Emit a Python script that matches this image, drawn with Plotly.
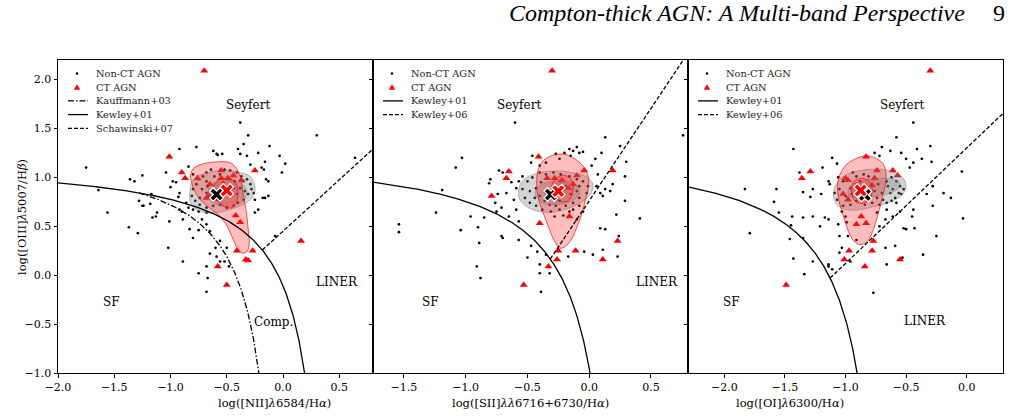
import numpy as np
import plotly.graph_objects as go

# ---------------- data ----------------
# Panel 1: [NII]/Ha vs [OIII]/Hb
nii_nonct = [
    (-1.75, 1.10), (-1.64, 0.87), (-1.56, 0.64), (-1.36, 0.98), (-1.32, 0.96), (-1.25, 1.02), (-1.37, 0.49),
    (-1.29, 0.43), (-1.28, 0.76), (-1.25, 0.71), (-1.18, 0.73), (-1.17, 0.83), (-1.16, 0.59), (-1.13, 0.60),
    (-1.04, 1.05), (-1.02, 0.28), (-1.01, 0.55), (-1.00, 0.90), (-0.98, 0.96), (-0.95, 0.95), (-0.92, 1.29),
    (-0.93, 0.80), (-0.92, 0.67), (-0.89, 0.14), (-0.75, 0.02), (-0.68, -0.17), (-0.67, -0.03), (-0.65, 0.22),
    (-0.60, 0.28), (-0.56, 0.14), (-0.48, 0.09), (-0.77, 1.31), (-0.62, 1.27), (-0.59, 1.24), (-0.54, 1.24),
    (-0.38, 1.56), (-0.31, 1.43), (-0.40, 1.29), (-0.35, 1.34), (-0.22, 1.25), (-0.12, 1.32), (-0.03, 1.22),
    (0.02, 1.14), (-0.01, 1.05), (0.30, 1.43), (0.64, 1.20), (-0.07, 0.40), (-0.18, 0.79), (-0.25, 0.64),
    (-0.68, 0.96), (-0.58, 1.23), (-0.38, 1.24), (-0.32, 1.22), (-0.16, 1.16), (-0.29, 1.13), (-0.19, 1.10),
    (-0.17, 1.08), (-0.84, 1.11), (-0.92, 0.84), (-1.24, 0.71), (-1.12, 0.64), (-0.13, 0.96),
    (-0.90, 0.65), (-0.89, 0.57), (-0.83, 0.47), (-0.80, 0.38), (-0.75, 0.46), (-0.72, 0.57), (-0.68, 0.52),
    (-0.65, 0.45), (-0.59, 0.19), (-0.68, 0.09), (-0.52, 0.14), (-0.50, 0.28), (-0.56, 0.35),
    (-0.80, 1.03), (-0.75, 0.98), (-0.71, 1.01), (-0.68, 1.05), (-0.64, 1.08), (-0.61, 1.01), (-0.56, 1.03),
    (-0.52, 1.08), (-0.47, 1.07), (-0.41, 1.05), (-0.37, 1.01), (-0.32, 0.98), (-0.29, 0.93), (-0.28, 0.88),
    (-0.31, 0.83), (-0.35, 0.77), (-0.40, 0.74), (-0.44, 0.71), (-0.50, 0.69), (-0.56, 0.72), (-0.62, 0.71),
    (-0.68, 0.69), (-0.74, 0.72), (-0.78, 0.76), (-0.81, 0.81), (-0.80, 0.88), (-0.77, 0.93), (-0.72, 0.88),
    (-0.68, 0.84), (-0.64, 0.81), (-0.59, 0.77), (-0.53, 0.81), (-0.49, 0.86), (-0.44, 0.89), (-0.41, 0.83),
    (-0.38, 0.89), (-0.35, 0.96), (-0.74, 0.79), (-0.67, 0.91), (-0.53, 0.95), (-0.47, 0.98), (-0.43, 0.96),
    (-0.34, 0.86), (-0.26, 0.84), (-0.25, 0.77), (-0.22, 0.67), (-0.16, 0.79), (-0.13, 0.81), (-0.15, 0.98),
    (-0.80, 0.67), (-0.84, 0.69), (-0.75, 0.65), (-0.68, 0.64), (-0.86, 0.74),
]
nii_ct = [
    (-0.70, 2.09), (-1.01, 1.21), (-0.90, 1.05), (-0.87, 0.99), (-0.76, 0.99), (-0.65, 0.93), (-0.66, 0.81),
    (-0.68, 0.79), (-0.55, 1.07), (-0.55, 0.99), (-0.49, 0.99), (-0.44, 1.02), (-0.37, 0.97), (-0.25, 1.07),
    (-0.42, 0.61), (-0.38, 0.54), (-0.41, 0.25), (-0.27, 0.25), (-0.33, 0.16), (-0.31, 0.15), (-0.58, 0.09),
    (-0.50, -0.10), (0.16, 0.35),
]
nii_mean_nonct = (-0.59, 0.825)
nii_mean_ct = (-0.50, 0.866)
nii_gray_outer = [
    (-0.828, 0.843), (-0.813, 0.946), (-0.754, 1.014), (-0.650, 1.055), (-0.501, 1.072), (-0.383, 1.048),
    (-0.294, 1.014), (-0.258, 0.946), (-0.249, 0.860), (-0.279, 0.781), (-0.329, 0.740), (-0.383, 0.706),
    (-0.472, 0.672), (-0.561, 0.644), (-0.665, 0.637), (-0.754, 0.661), (-0.804, 0.706), (-0.828, 0.774),
]
nii_gray_inner = [
    (-0.67, 0.84), (-0.64, 0.92), (-0.56, 0.96), (-0.45, 0.96), (-0.35, 0.92), (-0.32, 0.84), (-0.36, 0.75),
    (-0.45, 0.71), (-0.56, 0.71), (-0.64, 0.76),
]
nii_red_outer = [
    (-0.318, 0.243), (-0.300, 0.329), (-0.309, 0.466), (-0.329, 0.672), (-0.353, 0.809), (-0.374, 0.980),
    (-0.412, 1.089), (-0.472, 1.151), (-0.591, 1.158), (-0.724, 1.134), (-0.798, 1.089), (-0.822, 1.014),
    (-0.807, 0.928), (-0.769, 0.826), (-0.709, 0.740), (-0.635, 0.672), (-0.561, 0.603), (-0.496, 0.500),
    (-0.442, 0.363), (-0.398, 0.261), (-0.359, 0.226),
]
nii_red_inner = [
    (-0.62, 0.90), (-0.58, 0.97), (-0.50, 0.99), (-0.43, 0.96), (-0.40, 0.87), (-0.41, 0.76), (-0.45, 0.69),
    (-0.52, 0.70), (-0.58, 0.76), (-0.62, 0.83),
]

# Panel 2: [SII]/Ha
sii_nonct = [
    (-0.60, 1.56), (0.13, 1.41), (0.25, 1.32), (-1.03, 1.20), (-1.08, 1.10), (-1.19, 0.87), (-0.73, 1.07),
    (-0.70, 1.05), (-0.80, 0.98), (-0.81, 0.94), (-0.67, 0.84), (-0.63, 0.95), (-0.57, 0.96), (-0.74, 0.83),
    (-0.71, 0.69), (-0.76, 0.74), (-0.59, 0.67), (-0.65, 0.60), (-0.57, 0.55), (-0.71, 0.40), (-0.70, 0.38),
    (-0.89, 0.33), (-0.96, 0.60), (-0.85, 0.59), (-0.90, 0.49), (-1.04, 0.46), (-0.91, 0.09), (-0.88, -0.03),
    (-0.57, 0.36), (-0.50, 0.18), (-0.47, 0.30), (-0.42, 0.24), (-0.39, -0.17), (-0.40, 0.02), (-0.40, 0.11),
    (-0.32, 0.02), (-0.35, 0.21), (-0.17, 0.19), (-0.04, 0.24), (0.03, 0.21), (0.11, 0.26), (0.23, 0.19),
    (0.09, 0.48), (0.13, 0.47), (0.24, 0.40), (0.41, 0.58), (0.22, 0.62), (0.17, 0.86), (0.11, 0.81),
    (0.09, 0.84), (0.13, 0.88), (0.06, 0.91), (0.07, 1.03), (0.05, 1.19), (0.10, 1.25), (0.02, 1.12),
    (-0.08, 1.25), (-0.05, 1.26), (-0.15, 1.22), (-0.10, 1.31), (-0.13, 1.27), (0.30, 1.16), (0.29, 1.01),
    (0.19, 0.93), (-0.47, 1.15), (-0.46, 1.22), (-0.40, 1.12), (-0.35, 1.15), (-0.27, 1.24), (-0.24, 1.19),
    (-0.20, 1.25), (-0.16, 1.29), (-1.54, 0.52), (-1.54, 0.44), (-1.24, 0.64), (-0.75, 0.65), (0.76, 1.43),
    (0.29, 0.76),
    (-0.54, 1.01), (-0.50, 0.96), (-0.46, 1.00), (-0.40, 1.05), (-0.35, 1.03), (-0.29, 1.05), (-0.23, 1.03),
    (-0.16, 1.01), (-0.10, 0.98), (-0.05, 0.96), (-0.01, 0.91), (-0.02, 0.84), (-0.08, 0.79), (-0.13, 0.74),
    (-0.19, 0.71), (-0.24, 0.67), (-0.31, 0.65), (-0.38, 0.67), (-0.43, 0.71), (-0.48, 0.74), (-0.52, 0.79),
    (-0.54, 0.88), (-0.48, 0.86), (-0.43, 0.89), (-0.40, 0.81), (-0.36, 0.76), (-0.35, 0.84), (-0.28, 0.81),
    (-0.24, 0.76), (-0.20, 0.83), (-0.15, 0.83), (-0.10, 0.86), (-0.08, 0.91), (-0.13, 0.93), (-0.19, 0.91),
    (-0.23, 0.96), (-0.39, 0.95), (-0.44, 0.79), (-0.32, 0.72), (-0.27, 0.71), (-0.13, 0.67), (-0.08, 0.71),
    (-0.05, 0.65), (-0.28, 0.60), (-0.21, 0.61), (-0.16, 0.65), (-0.10, 0.57), (-0.59, 0.89), (-0.61, 0.77),
]
sii_ct = [
    (-0.30, 2.09), (-0.41, 1.21), (-0.65, 1.06), (-0.67, 0.99), (-0.79, 0.81), (-0.34, 0.99), (-0.28, 0.99),
    (-0.22, 0.97), (-0.17, 0.89), (-0.13, 0.93), (-0.10, 1.02), (-0.04, 1.07), (0.19, 1.07), (-0.40, 0.53),
    (-0.16, 0.60), (-0.25, 0.25), (-0.11, 0.25), (-0.26, 0.16), (0.11, 0.16), (0.23, 0.35), (-0.33, 0.09),
    (-0.53, -0.10),
]
sii_mean_nonct = (-0.31, 0.825)
sii_mean_ct = (-0.25, 0.86)
sii_gray_outer = [
    (-0.573, 0.843), (-0.551, 0.946), (-0.484, 1.014), (-0.375, 1.055), (-0.240, 1.065), (-0.104, 1.041),
    (-0.009, 0.997), (0.031, 0.928), (0.018, 0.843), (-0.050, 0.757), (-0.158, 0.689), (-0.294, 0.644),
    (-0.416, 0.654), (-0.511, 0.706), (-0.560, 0.768),
]
sii_gray_inner = [
    (-0.44, 0.84), (-0.40, 0.92), (-0.30, 0.96), (-0.17, 0.96), (-0.09, 0.91), (-0.08, 0.83), (-0.14, 0.76),
    (-0.27, 0.72), (-0.38, 0.74),
]
sii_red_outer = [
    (-0.240, 0.278), (-0.280, 0.346), (-0.321, 0.466), (-0.362, 0.603), (-0.402, 0.740), (-0.424, 0.877),
    (-0.424, 0.980), (-0.416, 1.065), (-0.375, 1.168), (-0.294, 1.226), (-0.199, 1.237), (-0.118, 1.192),
    (-0.050, 1.117), (-0.009, 1.014), (-0.004, 0.911), (-0.023, 0.809), (-0.050, 0.672), (-0.091, 0.518),
    (-0.145, 0.363), (-0.199, 0.288),
]
sii_red_inner = [
    (-0.30, 0.93), (-0.26, 1.00), (-0.20, 1.02), (-0.15, 0.99), (-0.13, 0.92), (-0.14, 0.82), (-0.17, 0.76),
    (-0.22, 0.75), (-0.27, 0.78), (-0.30, 0.85),
]

# Panel 3: [OI]/Ha
oi_nonct = [
    (-0.44, 1.56), (-1.43, 1.29), (-0.58, 1.41), (-0.30, 1.32), (-0.04, 1.06), (-0.41, 1.29), (-0.54, 1.25),
    (-0.50, 1.19), (-0.63, 1.27), (-0.70, 1.31), (-0.72, 1.22), (-0.76, 1.25), (-0.37, 1.19), (-0.29, 1.16),
    (-0.44, 1.15), (-0.47, 1.10), (-1.07, 1.14), (-1.11, 1.20), (-1.38, 1.05), (-1.19, 1.10), (-1.35, 0.85),
    (-1.57, 0.88), (-1.59, 0.75), (-1.27, 0.88), (-1.29, 0.80), (-1.20, 0.83), (-1.13, 0.93), (-1.14, 0.96),
    (-1.55, 0.64), (-1.44, 0.60), (-1.35, 0.59), (-1.27, 0.60), (-1.21, 0.50), (-1.45, 0.51), (-1.46, 0.37),
    (-1.35, 0.38), (-1.27, 0.14), (-1.43, 0.17), (-1.34, 0.01), (-1.17, 0.59), (-1.14, 0.57), (-1.05, 0.40),
    (-0.98, 0.40), (-1.03, 0.28), (-1.05, 0.23), (-1.14, 0.11), (-1.11, 0.06), (-1.06, 0.52), (-1.00, 0.60),
    (-0.99, 0.54), (-1.03, 0.65), (-0.77, -0.18), (-0.67, 0.28), (-0.59, 0.30), (-0.53, 0.18), (-0.36, 0.21),
    (-0.25, 0.40), (-0.19, 0.84), (-0.13, 0.79), (-0.28, 0.71), (-0.28, 0.91), (-0.03, 0.58), (-0.33, 0.83),
    (-0.44, 0.67), (-0.52, 0.48), (-0.43, 0.48), (-0.50, 0.47), (-0.67, 0.57), (-0.72, 0.50), (-0.66, 0.67),
    (-0.74, 0.64), (-0.61, 0.60), (-0.55, 0.65), (-0.45, 0.60), (-0.91, 0.36), (-0.96, 0.14), (-0.66, 0.11),
    (-1.83, 0.88), (-1.79, 0.43), (-1.14, 0.09),
    (-1.06, 1.00), (-1.02, 0.96), (-1.05, 0.88), (-1.00, 0.81), (-0.96, 0.89), (-0.94, 1.05), (-0.91, 1.01),
    (-0.88, 0.96), (-0.85, 1.03), (-0.81, 1.01), (-0.77, 0.98), (-0.73, 0.93), (-0.66, 0.96), (-0.62, 1.00),
    (-0.58, 0.96), (-0.55, 0.91), (-0.52, 0.88), (-0.54, 0.83), (-0.59, 0.79), (-0.63, 0.84), (-0.61, 0.88),
    (-0.65, 0.91), (-0.70, 0.84), (-0.74, 0.79), (-0.78, 0.74), (-0.84, 0.72), (-0.91, 0.76), (-0.96, 0.72),
    (-1.02, 0.71), (-1.07, 0.77), (-1.09, 0.84), (-0.95, 0.83), (-0.88, 0.81), (-0.83, 0.84), (-0.84, 0.91),
    (-0.91, 0.93), (-0.69, 0.77), (-0.66, 0.74), (-0.58, 0.74), (-0.56, 0.84), (-0.62, 0.76), (-0.72, 0.72),
    (-0.76, 0.86), (-0.89, 0.88), (-0.98, 0.79),
]
oi_ct = [
    (-0.30, 2.09), (-0.83, 1.21), (-0.74, 1.07), (-0.61, 1.07), (-0.57, 1.02), (-1.29, 1.06), (-1.36, 0.99),
    (-1.00, 0.99), (-0.98, 0.97), (-0.76, 0.99), (-0.78, 0.92), (-1.02, 0.83), (-0.98, 0.77), (-0.87, 0.60),
    (-0.91, 0.52), (-0.83, 0.53), (-0.77, 0.35), (-0.97, 0.25), (-0.78, 0.25), (-1.01, 0.16), (-0.55, 0.16),
    (-0.84, 0.09), (-1.49, -0.10),
]
oi_mean_nonct = (-0.84, 0.82)
oi_mean_ct = (-0.875, 0.866)
oi_gray_outer = [
    (-1.100, 0.809), (-1.086, 0.911), (-1.031, 0.997), (-0.935, 1.055), (-0.798, 1.083), (-0.660, 1.076),
    (-0.564, 1.031), (-0.509, 0.963), (-0.503, 0.877), (-0.550, 0.802), (-0.646, 0.740), (-0.770, 0.699),
    (-0.907, 0.665), (-1.017, 0.678), (-1.078, 0.730),
]
oi_gray_inner = [
    (-0.98, 0.86), (-0.94, 0.93), (-0.85, 0.97), (-0.72, 0.99), (-0.60, 0.98), (-0.55, 0.94), (-0.57, 0.88),
    (-0.65, 0.83), (-0.78, 0.80), (-0.90, 0.79), (-0.97, 0.81),
]
oi_red_outer = [
    (-0.880, 0.312), (-0.929, 0.346), (-0.976, 0.449), (-1.017, 0.603), (-1.050, 0.740), (-1.067, 0.911),
    (-1.045, 1.031), (-0.990, 1.134), (-0.907, 1.196), (-0.825, 1.220), (-0.743, 1.192), (-0.688, 1.134),
    (-0.666, 1.048), (-0.668, 0.946), (-0.693, 0.809), (-0.729, 0.637), (-0.770, 0.466), (-0.820, 0.346),
]
oi_red_inner = [
    (-0.95, 0.88), (-0.93, 0.96), (-0.87, 0.99), (-0.81, 0.97), (-0.78, 0.90), (-0.79, 0.80), (-0.84, 0.74),
    (-0.90, 0.74), (-0.94, 0.79),
]

# demarcation-line coefficients: y = a/(x-b)+c ; straight lines y = m x + k
KAUFFMANN03 = (0.61, 0.05, 1.30)
KEWLEY01_NII = (0.61, 0.47, 1.19)
SCHAWINSKI07 = (1.05, 0.45)
KEWLEY01_SII = (0.72, 0.32, 1.30)
KEWLEY06_SII = (1.89, 0.76)
KEWLEY01_OI = (0.73, -0.59, 1.33)
KEWLEY06_OI = (1.18, 1.30)

x_ranges = [(-2.0, 0.8), (-1.75, 0.8), (-2.3, 0.3)]
x_ticks = [[-2.0, -1.5, -1.0, -0.5, 0.0, 0.5], [-1.5, -1.0, -0.5, 0.0, 0.5], [-2.0, -1.5, -1.0, -0.5, 0.0]]
y_ticks = [-1.0, -0.5, 0.0, 0.5, 1.0, 1.5, 2.0]
y_range = (-1.0, 2.2)
x_titles = ["log([NII]<i>λ</i>6584/H<i>α</i>)", "log([SII]<i>λλ</i>6716+6730/H<i>α</i>)",
            "log([OI]<i>λ</i>6300/H<i>α</i>)"]
y_title = "log([OIII]<i>λ</i>5007/H<i>β</i>)"

# ---------------- figure ----------------
W, H = 1016, 416
ML, MR, MT, MB = 58, 13, 60, 43
PW, PH = W - ML - MR, H - MT - MB
SERIF = "DejaVu Serif"
BLACK = "black"
DASH = "4px,2px"
DASHDOT = "6px,2px,1.5px,2px"


def px2p(px, py):
    return (px - ML) / PW, (H - MB - py) / PH


def fmt(v):
    return f"{v:.1f}".replace("-", "\u2212")


def hyper(coef, xmin):
    a, b, c = coef
    xend = b + a / (-1.08 - c)
    xs = np.linspace(xmin, xend, 400)
    return xs, a / (xs - b) + c


def hyper_cross(c1, c2):
    # x where two hyperbolae a/(x-b)+c meet (left branch)
    a1, b1, k1 = c1
    a2, b2, k2 = c2
    # a1(x-b2) - a2(x-b1) + (k1-k2)(x-b1)(x-b2) = 0
    d = k1 - k2
    coeffs = [d, a1 - a2 - d * (b1 + b2), -a1 * b2 + a2 * b1 + d * b1 * b2]
    r = np.roots(coeffs)
    return float(min(v.real for v in r))


def straight(lin, coef, xmax):
    m, k = lin
    a, b, c = coef
    roots = np.roots([m, k - c - m * b, -(k - c) * b - a])
    x0 = float(min(r.real for r in roots))
    xs = np.array([x0, xmax])
    return xs, m * xs + k


def unzip(pts):
    return [p[0] for p in pts], [p[1] for p in pts]


fig = go.Figure()

panels = [
    dict(nonct=nii_nonct, ct=nii_ct, go_=nii_gray_outer, gi=nii_gray_inner, ro=nii_red_outer, ri=nii_red_inner,
         mn=nii_mean_nonct, mc=nii_mean_ct),
    dict(nonct=sii_nonct, ct=sii_ct, go_=sii_gray_outer, gi=sii_gray_inner, ro=sii_red_outer, ri=sii_red_inner,
         mn=sii_mean_nonct, mc=sii_mean_ct),
    dict(nonct=oi_nonct, ct=oi_ct, go_=oi_gray_outer, gi=oi_gray_inner, ro=oi_red_outer, ri=oi_red_inner,
         mn=oi_mean_nonct, mc=oi_mean_ct),
]

for i, p in enumerate(panels):
    xa = "x" if i == 0 else f"x{i + 1}"
    ya = "y" if i == 0 else f"y{i + 1}"
    common = dict(xaxis=xa, yaxis=ya, showlegend=False, hoverinfo="skip")
    x, y = unzip(p["nonct"])
    fig.add_trace(go.Scatter(x=x, y=y, mode="markers", marker=dict(size=2.7, color=BLACK), **common))
    x, y = unzip(p["ct"])
    fig.add_trace(go.Scatter(x=x, y=y, mode="markers",
                             marker=dict(symbol="triangle-up", size=7, color="red", line=dict(width=0)), **common))
    for key, fc, lc in [("go_", "rgba(120,120,120,0.32)", "rgba(110,110,110,0.55)"),
                        ("gi", "rgba(120,120,120,0.30)", "rgba(110,110,110,0.45)"),
                        ("ro", "rgba(255,40,40,0.30)", "rgba(255,0,0,0.85)"),
                        ("ri", "rgba(255,40,40,0.28)", "rgba(255,0,0,0.85)")]:
        x, y = unzip(p[key] + p[key][:1])
        fig.add_trace(go.Scatter(x=x, y=y, mode="lines", fill="toself", fillcolor=fc,
                                 line=dict(color=lc, width=0.8, shape="spline", smoothing=0.9), **common))

# demarcation lines
LW = 1.3
x1, y1 = hyper(KAUFFMANN03, hyper_cross(KAUFFMANN03, KEWLEY01_NII))
fig.add_trace(go.Scatter(x=x1, y=y1, mode="lines", line=dict(color=BLACK, width=LW, dash=DASHDOT),
                         xaxis="x", yaxis="y", showlegend=False, hoverinfo="skip"))
x1, y1 = hyper(KEWLEY01_NII, -2.0)
fig.add_trace(go.Scatter(x=x1, y=y1, mode="lines", line=dict(color=BLACK, width=LW),
                         xaxis="x", yaxis="y", showlegend=False, hoverinfo="skip"))
x1, y1 = straight(SCHAWINSKI07, KEWLEY01_NII, 0.8)
fig.add_trace(go.Scatter(x=x1, y=y1, mode="lines", line=dict(color=BLACK, width=LW, dash=DASH),
                         xaxis="x", yaxis="y", showlegend=False, hoverinfo="skip"))
x1, y1 = hyper(KEWLEY01_SII, -1.75)
fig.add_trace(go.Scatter(x=x1, y=y1, mode="lines", line=dict(color=BLACK, width=LW),
                         xaxis="x2", yaxis="y2", showlegend=False, hoverinfo="skip"))
x1, y1 = straight(KEWLEY06_SII, KEWLEY01_SII, 0.8)
fig.add_trace(go.Scatter(x=x1, y=y1, mode="lines", line=dict(color=BLACK, width=LW, dash=DASH),
                         xaxis="x2", yaxis="y2", showlegend=False, hoverinfo="skip"))
x1, y1 = hyper(KEWLEY01_OI, -2.3)
fig.add_trace(go.Scatter(x=x1, y=y1, mode="lines", line=dict(color=BLACK, width=LW),
                         xaxis="x3", yaxis="y3", showlegend=False, hoverinfo="skip"))
x1, y1 = straight(KEWLEY06_OI, KEWLEY01_OI, 0.3)
fig.add_trace(go.Scatter(x=x1, y=y1, mode="lines", line=dict(color=BLACK, width=LW, dash=DASH),
                         xaxis="x3", yaxis="y3", showlegend=False, hoverinfo="skip"))

# centroids
for i, p in enumerate(panels):
    xa = "x" if i == 0 else f"x{i + 1}"
    ya = "y" if i == 0 else f"y{i + 1}"
    for (mx, my), col in [(p["mn"], BLACK), (p["mc"], "red")]:
        fig.add_trace(go.Scatter(x=[mx], y=[my], mode="markers",
                                 marker=dict(symbol="x", size=12, color=col, line=dict(color="white", width=1.2)),
                                 xaxis=xa, yaxis=ya, showlegend=False, hoverinfo="skip"))

# axes
layout = dict(width=W, height=H, margin=dict(l=ML, r=MR, t=MT, b=MB), paper_bgcolor="white",
              plot_bgcolor="white", showlegend=False)
for i in range(3):
    sfx = "" if i == 0 else str(i + 1)
    layout[f"xaxis{sfx}"] = dict(
        domain=[i / 3, (i + 1) / 3], range=list(x_ranges[i]), anchor=f"y{sfx}",
        tickmode="array", tickvals=x_ticks[i], ticktext=[fmt(v) for v in x_ticks[i]],
        showline=True, mirror=True, linecolor=BLACK, linewidth=1, ticks="outside", ticklen=3.5, tickwidth=0.8,
        tickcolor=BLACK, showgrid=False, zeroline=False, tickfont=dict(family=SERIF, size=11, color=BLACK))
    layout[f"yaxis{sfx}"] = dict(
        domain=[0, 1], range=list(y_range), anchor=f"x{sfx}",
        tickmode="array", tickvals=y_ticks, ticktext=[fmt(v) for v in y_ticks], showticklabels=(i == 0),
        showline=True, mirror=True, linecolor=BLACK, linewidth=1, ticks="outside", ticklen=3.5, tickwidth=0.8,
        tickcolor=BLACK, showgrid=False, zeroline=False, tickfont=dict(family=SERIF, size=11, color=BLACK))
fig.update_layout(**layout)

ann = []
shapes = []
# region labels
region_labels = [
    ("x", "y", -0.31, 1.74, "Seyfert"), ("x", "y", 0.476, -0.065, "LINER"), ("x", "y", -1.525, -0.27, "SF"),
    ("x", "y", -0.087, -0.476, "Comp."),
    ("x2", "y2", -0.565, 1.74, "Seyfert"), ("x2", "y2", 0.551, -0.065, "LINER"), ("x2", "y2", -1.283, -0.27, "SF"),
    ("x3", "y3", -0.531, 1.74, "Seyfert"), ("x3", "y3", -0.344, -0.466, "LINER"), ("x3", "y3", -1.94, -0.27, "SF"),
]
for xr, yr, x, y, t in region_labels:
    ann.append(dict(x=x, y=y, xref=xr, yref=yr, text=t, showarrow=False,
                    font=dict(family=SERIF, size=12, color=BLACK)))

# axis titles
for i, t in enumerate(x_titles):
    cx = ML + PW * (i + 0.5) / 3
    xp, yp = px2p(cx, 403)
    ann.append(dict(x=xp, y=yp, xref="paper", yref="paper", text=t, showarrow=False, yanchor="middle",
                    font=dict(family=SERIF, size=11.5, color=BLACK)))
xp, yp = px2p(13, 217)
ann.append(dict(x=xp, y=yp, xref="paper", yref="paper", text=y_title, showarrow=False, textangle=-90,
                font=dict(family=SERIF, size=11.5, color=BLACK)))

# page header
xp, yp = px2p(967, 13)
ann.append(dict(x=xp, y=yp, xref="paper", yref="paper", text="<i>Compton-thick AGN: A Multi-band Perspective</i>",
                showarrow=False, xanchor="right", yanchor="middle",
                font=dict(family="Liberation Serif", size=24, color=BLACK)))
xp, yp = px2p(999, 13)
ann.append(dict(x=xp, y=yp, xref="paper", yref="paper", text="9", showarrow=False, xanchor="center",
                yanchor="middle", font=dict(family="Liberation Serif", size=24, color=BLACK)))

# legends (drawn per panel)
legend_items = [
    ["Non-CT AGN", "CT AGN", "Kauffmann+03", "Kewley+01", "Schawinski+07"],
    ["Non-CT AGN", "CT AGN", "Kewley+01", "Kewley+06"],
    ["Non-CT AGN", "CT AGN", "Kewley+01", "Kewley+06"],
]
legend_styles = {"Kauffmann+03": DASHDOT, "Kewley+01": "solid", "Schawinski+07": DASH, "Kewley+06": DASH}
for i, items in enumerate(legend_items):
    x0 = ML + PW * i / 3
    for j, name in enumerate(items):
        py = 73.5 + 13.7 * j
        cx = x0 + 19
        if name == "Non-CT AGN":
            a0 = px2p(cx - 1.3, py - 1.3)
            a1 = px2p(cx + 1.3, py + 1.3)
            shapes.append(dict(type="circle", xref="paper", yref="paper", x0=a0[0], y0=a1[1], x1=a1[0], y1=a0[1],
                               fillcolor=BLACK, line=dict(width=0)))
        elif name == "CT AGN":
            v = [px2p(cx - 3.2, py + 2.6), px2p(cx + 3.2, py + 2.6), px2p(cx, py - 3.0)]
            path = "M {} {} L {} {} L {} {} Z".format(v[0][0], v[0][1], v[1][0], v[1][1], v[2][0], v[2][1])
            shapes.append(dict(type="path", xref="paper", yref="paper", path=path, fillcolor="red",
                               line=dict(width=0)))
        else:
            a0 = px2p(x0 + 10, py)
            a1 = px2p(x0 + 30, py)
            shapes.append(dict(type="line", xref="paper", yref="paper", x0=a0[0], y0=a0[1], x1=a1[0], y1=a1[1],
                               line=dict(color=BLACK, width=1.3, dash=legend_styles[name])))
        tp = px2p(x0 + 36, py)
        ann.append(dict(x=tp[0], y=tp[1], xref="paper", yref="paper", text=name, showarrow=False,
                        xanchor="left", yanchor="middle", font=dict(family=SERIF, size=9.8, color="#222222")))

fig.update_layout(annotations=ann, shapes=shapes)
fig.write_html("out.html")
